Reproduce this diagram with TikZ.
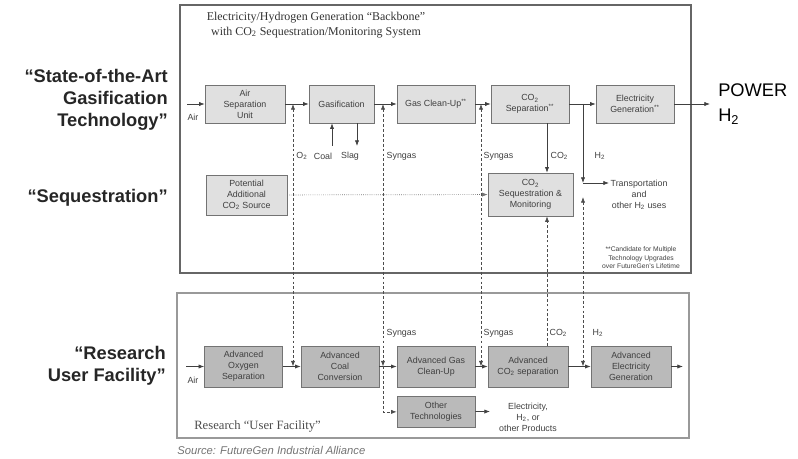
\documentclass[tikz,border=0pt]{standalone}
\usepackage{fontspec}
\setmainfont{Liberation Sans}
\newfontfamily\ttlfont[Ligatures=TeX]{Liberation Serif}
\usepackage{tikz}
\usetikzlibrary{arrows.meta, positioning, calc}

\begin{document}
\begin{tikzpicture}[x=0.025cm, y=-0.025cm, >={Latex[length=4pt,width=3pt]}]
        \tikzset{
            unit/.style={rectangle, draw=black!55, fill=black!12, minimum width=1.95cm, minimum height=0.95cm, inner sep=1pt, align=center, font=\fontsize{6.3}{7.8}\selectfont, text=black!75},
            adv/.style={unit, fill=black!27, minimum height=1.02cm},
            flow/.style={->, draw=black!75, line width=0.5pt},
            link/.style={draw=black!70, line width=0.5pt, dash pattern=on 2pt off 1.5pt},
            tag/.style={font=\fontsize{6.3}{7.8}\selectfont, text=black!75, inner sep=1pt},
            theme/.style={font=\fontsize{13}{15.6}\selectfont\bfseries, text=black!85, align=right, inner sep=0pt},
            frame/.style={line width=2pt}
        }
        \useasboundingbox (0,0) rectangle (798,459);

        % left hand themes
        \node[theme, anchor=east] (themeGas) at (168,100) {“State-of-the-Art\\Gasification\\Technology”};
        \node[theme, anchor=east] (themeSeq) at (168,198) {“Sequestration”};
        \node[theme, anchor=east] (themeRes) at (166,366) {“Research\\User Facility”};

        % the two frames
        \draw[frame, draw=black!60] (180,5) rectangle (691,273);
        \draw[frame, draw=black!40] (177,293) rectangle (689,438);
        \node[font=\ttlfont\fontsize{8.5}{10.5}\selectfont, text=black!80, align=center, inner sep=0pt] (title) at (316,25)
            {Electricity/Hydrogen Generation “Backbone”\\with CO\textsubscript{2} Sequestration/Monitoring System};

        % backbone row
        \node[unit, minimum width=2cm] (asu) at (245,104) {Air\\Separation\\Unit};
        \node[unit, minimum width=1.625cm] (gasif) at (341.5,104) {Gasification};
        \node[unit] (gcu) at (436,104) {Gas Clean-Up\textsuperscript{**}};
        \node[unit] (co2sep) at (530,104) {CO\textsubscript{2}\\Separation\textsuperscript{**}};
        \node[unit] (elgen) at (635,104) {Electricity\\Generation\textsuperscript{**}};

        \node[unit, minimum width=2.025cm, minimum height=1cm] (potsrc) at (246.5,195) {Potential\\Additional\\CO\textsubscript{2} Source};
        \node[unit, minimum width=2.125cm, minimum height=1.075cm] (co2seq) at (530.5,194.5) {CO\textsubscript{2}\\Sequestration \&\\Monitoring};

        \node[font=\fontsize{13}{15.6}\selectfont, anchor=west, inner sep=0pt] (power) at (718,90) {POWER};
        \node[font=\fontsize{13}{15.6}\selectfont, anchor=west, inner sep=0pt] (htwo) at (718,117) {H\textsubscript{2}};

        \node[tag, align=center, anchor=west] (transp) at (609,195) {Transportation\\and\\other H\textsubscript{2} uses};
        \node[tag, align=center, font=\fontsize{4.8}{6}\selectfont] (note) at (641,258)
            {**Candidate for Multiple\\Technology Upgrades\\over FutureGen's Lifetime};

        % research row
        \node[adv] (aos) at (243.5,366.5) {Advanced\\Oxygen\\Separation};
        \node[adv] (acc) at (340,366.5) {Advanced\\Coal\\Conversion};
        \node[adv] (agcu) at (436,366.5) {Advanced Gas\\Clean-Up};
        \node[adv, minimum width=2cm] (aco2) at (528,366.5) {Advanced\\CO\textsubscript{2} separation};
        \node[adv, minimum width=2cm] (aeg) at (631,366.5) {Advanced\\Electricity\\Generation};
        \node[adv, minimum height=0.78cm, below=0.22cm of agcu] (other) {Other\\Technologies};
        \node[tag, align=center] (products) at (528,417) {Electricity,\\H\textsubscript{2}, or\\other Products};

        \node[font=\ttlfont\fontsize{9}{10.5}\selectfont, text=black!70, anchor=west, inner sep=0pt] (restitle) at (194,426) {Research “User Facility”};
        \node[font=\fontsize{8}{9.6}\selectfont\itshape, text=black!55, anchor=west, inner sep=0pt] (source) at (177,450) {Source: FutureGen Industrial Alliance};

        % stream labels
        \node[tag] (lblAirT) at (193,117) {Air};
        \node[tag] (lblAirB) at (193,380) {Air};
        \node[tag] (lblO) at (302,156) {O\textsubscript{2}};
        \node[tag] (lblCoal) at (323,156) {Coal};
        \node[tag] (lblSlag) at (350,156) {Slag};
        \node[tag, anchor=west] (lblSynA) at (385,156) {Syngas};
        \node[tag, anchor=west] (lblSynB) at (482,156) {Syngas};
        \node[tag, anchor=west] (lblCOT) at (549,156) {CO\textsubscript{2}};
        \node[tag, anchor=west] (lblHT) at (593,156) {H\textsubscript{2}};
        \node[tag, anchor=west] (lblSynC) at (385,333) {Syngas};
        \node[tag, anchor=west] (lblSynD) at (482,333) {Syngas};
        \node[tag, anchor=west] (lblCOB) at (548,333) {CO\textsubscript{2}};
        \node[tag, anchor=west] (lblHB) at (591,333) {H\textsubscript{2}};

        % junctions
        \coordinate (airT) at (187,104);
        \coordinate (airB) at (186,366.5);
        \coordinate (jOT) at (293,104);   \coordinate (jOB) at (293,366.5);
        \coordinate (jST) at (383,104);   \coordinate (jSB) at (383,366.5);
        \coordinate (jGT) at (481,104);   \coordinate (jGB) at (481,366.5);
        \coordinate (jHT) at (583,104);   \coordinate (jHM) at (583,183);
        \coordinate (jHL) at (583,197);   \coordinate (jHB) at (583,366.5);
        \coordinate (coalIn) at (332,146);
        \coordinate (slagOut) at (357,146);
        \coordinate (outT) at (710,104);
        \coordinate (outB) at (683,366.5);
        \coordinate (outO) at (490,411.5);

        % backbone flows
        \draw[flow] (airT) -- (asu);
        \draw[flow] (asu) -- (gasif);
        \draw[flow] (gasif) -- (gcu);
        \draw[flow] (gcu) -- (co2sep);
        \draw[flow] (co2sep) -- (elgen);
        \draw[flow] (elgen) -- (outT);
        \draw[flow] (coalIn) -- (coalIn |- gasif.south);
        \draw[flow] (slagOut |- gasif.south) -- (slagOut);
        \draw[flow] (co2sep.south -| 547,0) -- (co2seq.north -| 547,0);
        \draw[flow] (jHT) -- (jHM);
        \draw[flow] (jHM) -- (jHM -| transp.west);
        \draw[->, draw=black!55, line width=0.5pt, densely dotted] (potsrc) -- (co2seq);

        % research flows
        \draw[flow] (airB) -- (aos);
        \draw[flow] (aos) -- (acc);
        \draw[flow] (acc) -- (agcu);
        \draw[flow] (agcu) -- (aco2);
        \draw[flow] (aco2) -- (aeg);
        \draw[flow] (aeg) -- (outB);
        \draw[flow] (other) -- (outO);

        % links between the facilities
        \draw[link, <->] (jOT) -- (jOB);
        \draw[link, <->] (jST) -- (jSB);
        \draw[link, ->] (jSB) |- (other.west);
        \draw[link, <->] (jGT) -- (jGB);
        \draw[link, <->] (jHL) -- (jHB);
        \draw[link, ->] (aco2.north -| 547,0) -- (co2seq.south -| 547,0);

    \end{tikzpicture}
\end{document}
